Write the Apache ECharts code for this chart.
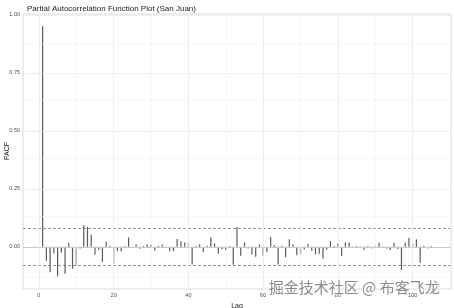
<!DOCTYPE html>
<html><head><meta charset="utf-8">
<script src="https://cdn.jsdelivr.net/npm/echarts@6/dist/echarts.min.js"></script>
<style>html,body{margin:0;padding:0;background:#fff}#c{width:454px;height:308px}</style>
</head><body><div id="c"></div>
<script>
const pacfValues = [0.951,-0.060,-0.110,-0.029,-0.127,-0.026,-0.116,0.017,-0.095,-0.080,
-0.007,0.093,0.086,0.052,-0.034,-0.014,-0.066,0.022,0.005,-0.072,
-0.018,-0.020,0.003,0.040,-0.004,0.010,-0.008,0.003,0.010,0.010,
-0.016,0.004,0.010,-0.003,-0.019,-0.019,0.034,0.024,0.019,0.019,
-0.076,0.003,0.011,-0.022,0.004,0.040,0.015,-0.030,-0.011,-0.014,
0.003,-0.077,0.085,-0.039,0.019,-0.007,-0.033,-0.043,0.010,-0.037,
-0.024,0.042,0.007,-0.076,0.004,-0.045,0.033,0.010,-0.036,-0.032,
-0.011,0.012,-0.017,-0.033,-0.030,-0.050,-0.013,0.024,0.003,0.014,
-0.040,0.019,0.019,-0.005,0.003,-0.004,-0.013,0.003,-0.007,0.004,
0.017,-0.003,-0.007,-0.014,0.017,-0.010,-0.100,0.018,0.039,0.014,
0.032,-0.069,0.004,-0.007,0.003];
const confBound = 0.0755;
const xTicks = [0,20,40,60,80,100];
const xMinor = [10,30,50,70,90,110];
const yTicks = [0,0.25,0.5,0.75,1.0];
const yMinor = [-0.125,0.125,0.375,0.625,0.875];
const title = 'Partial Autocorrelation Function Plot (San Juan)';

const chart = echarts.init(document.getElementById('c'), null, {renderer:'canvas'});
const data = pacfValues.map((v,i)=>[i+1, v]);
const gridLines = [];
xMinor.forEach(v=>gridLines.push({xAxis:v, lineStyle:{color:'#f4f4f4',width:0.6,type:'solid'}}));
yMinor.forEach(v=>gridLines.push({yAxis:v, lineStyle:{color:'#f4f4f4',width:0.6,type:'solid'}}));
xTicks.forEach(v=>gridLines.push({xAxis:v, lineStyle:{color:'#ebebeb',width:0.8,type:'solid'}}));
yTicks.forEach(v=>gridLines.push({yAxis:v, lineStyle:{color:'#ebebeb',width:0.8,type:'solid'}}));

const labelStyle = {color:'#4d4d4d', fontSize:5.5, fontFamily:'Liberation Sans, Arial'};
chart.setOption({
  animation:false,
  backgroundColor:'#fff',
  title:{text:title, left:22, top:0, textStyle:{fontSize:8, fontWeight:'normal', color:'#1a1a1a', fontFamily:'Liberation Sans, Arial'}},
  grid:{left:23, right:3, top:14, bottom:19, containLabel:false, outerBoundsMode:'none',
    show:true, borderColor:'#cfcfcf', borderWidth:0.8, backgroundColor:'transparent'},
  xAxis:{type:'value', min:-4.25, max:110.25, name:'Lag', nameLocation:'middle', nameGap:10,
    nameTextStyle:{color:'#1a1a1a', fontSize:7, fontFamily:'Liberation Sans, Arial'},
    axisLine:{show:false}, splitLine:{show:false},
    axisTick:{show:true, customValues:xTicks, length:2, lineStyle:{color:'#4d4d4d', width:0.6}},
    axisLabel:{customValues:xTicks, margin:3, ...labelStyle}},
  yAxis:{type:'value', min:-0.182, max:1.004,
    axisLine:{show:false}, splitLine:{show:false},
    axisTick:{show:true, customValues:yTicks, length:2, lineStyle:{color:'#4d4d4d', width:0.6}},
    axisLabel:{customValues:yTicks, margin:3, formatter:v=>v.toFixed(2), ...labelStyle}},
  series:[
    {type:'line', data:[], silent:true,
     markLine:{silent:true, symbol:'none', label:{show:false}, data:gridLines}},
    {type:'bar', data:data, barWidth:1.2, itemStyle:{color:'#5a5a5a'}, silent:true, z:3,
     markLine:{silent:true, symbol:'none', label:{show:false}, z:4,
       data:[
         {yAxis:0, lineStyle:{color:'#333', width:0.9, type:'solid'}},
         {yAxis:confBound, lineStyle:{color:'#666', width:0.7, type:[3,2]}},
         {yAxis:-confBound, lineStyle:{color:'#666', width:0.7, type:[3,2]}}
       ]}}
  ],
  graphic:[
    {type:'text', x:7, y:151, rotation:Math.PI/2, z:100,
     style:{text:'PACF', fill:'#1a1a1a', font:'7px "Liberation Sans", Arial', align:'center', verticalAlign:'middle'}},
    {type:'text', left:268, top:279, z:100,
     style:{text:'掘金技术社区 @ 布客飞龙', fill:'#8a8a8a', stroke:'#fff', lineWidth:1.5,
      font:'15px "Noto Sans CJK SC", sans-serif'}}]
});
</script></body></html>
